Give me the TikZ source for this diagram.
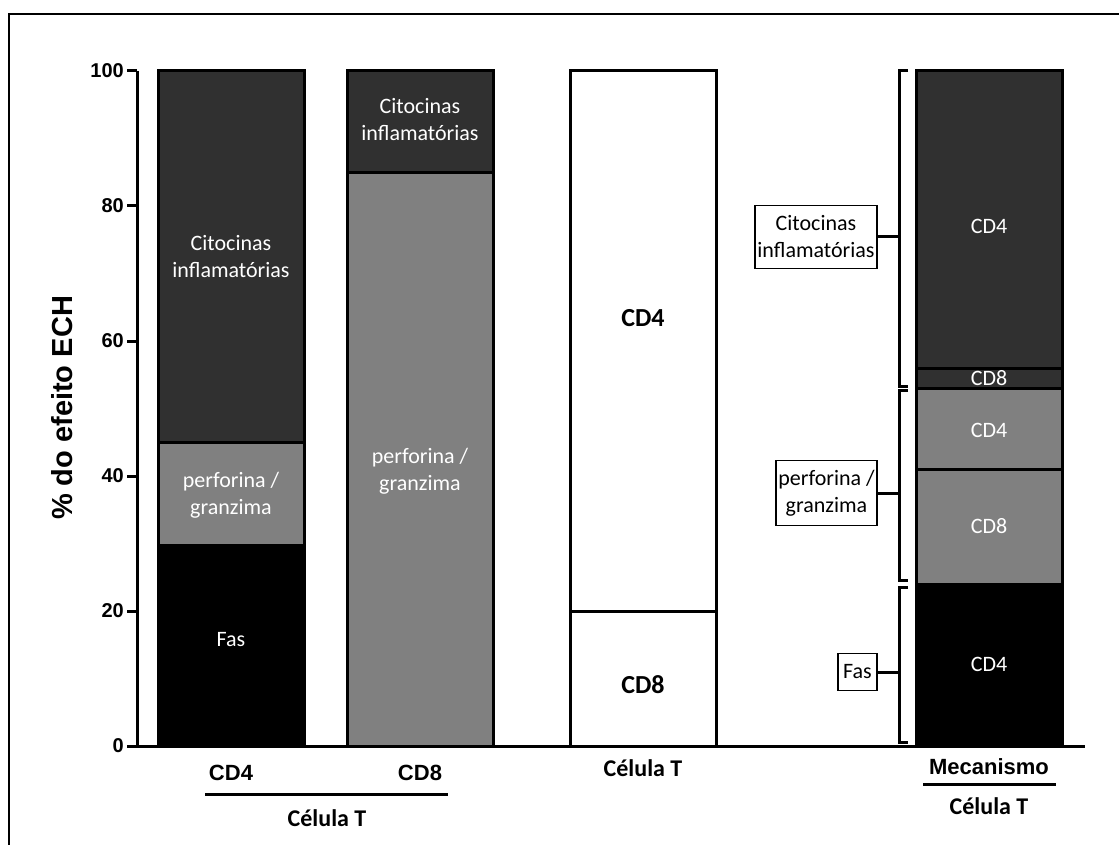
\documentclass[tikz,border=0pt]{standalone}
\usepackage{fontspec}
\setmainfont{Carlito}
\newfontfamily\arialfont{Liberation Sans}
\definecolor{dk}{HTML}{303030}
\definecolor{md}{HTML}{808080}
\begin{document}
\begin{tikzpicture}[x=1pt,y=-1pt,
  thick line/.style={line width=3pt},
  inwhite/.style={text=white, font=\fontsize{22}{27}\selectfont, align=center, inner sep=0pt},
  inblack/.style={text=black, font=\fontsize{26}{30}\selectfont\bfseries, inner sep=0pt},
  ticklab/.style={font=\arialfont\bfseries\fontsize{20}{24}\selectfont, anchor=east, inner sep=0pt},
  axlab/.style={font=\arialfont\bfseries\fontsize{22}{26}\selectfont, inner sep=0pt},
  grplab/.style={font=\bfseries\fontsize{24}{28}\selectfont, inner sep=0pt},
  keybox/.style={draw, line width=1.5pt, font=\fontsize{22}{27}\selectfont, align=center, inner sep=0pt}
]
\useasboundingbox (0,0) rectangle (1119,845);
\fill[white] (0,0) rectangle (1119,845);
% frame
\draw[line width=2.5pt] (9,845) -- (9,14) -- (1119,14);

% ---- bar 1 (CD4)
\fill[black] (158,746) rectangle (304,543.5);
\fill[md] (158,543.5) rectangle (304,442.25);
\fill[dk] (158,442.25) rectangle (304,71);
\draw[thick line] (158,442.25) -- (304,442.25);
\draw[thick line] (158,746) rectangle (304,71);
\node[inwhite] (b1cit) at (231,257) {Citocinas\\inflamatórias};
\node[inwhite] (b1per) at (231,495) {perforina /\\granzima};
\node[inwhite] (b1fas) at (231,640) {Fas};

% ---- bar 2 (CD8)
\fill[md] (347,746) rectangle (493,172.25);
\fill[dk] (347,172.25) rectangle (493,71);
\draw[thick line] (347,172.25) -- (493,172.25);
\draw[thick line] (347,746) rectangle (493,71);
\node[inwhite] (b2cit) at (420,120) {Citocinas\\inflamatórias};
\node[inwhite] (b2per) at (420,471) {perforina /\\granzima};

% ---- bar 3 (Celula T)
\fill[white] (570,746) rectangle (716,71);
\draw[thick line] (570,611) -- (716,611);
\draw[thick line] (570,746) rectangle (716,71);
\node[inblack] (b3cd4) at (643,318) {CD4};
\node[inblack] (b3cd8) at (643,685) {CD8};

% ---- bar 4 (Mecanismo)
\fill[black] (916,746) rectangle (1062,584);
\fill[md] (916,584) rectangle (1062,388.25);
\fill[dk] (916,388.25) rectangle (1062,71);
\draw[thick line] (916,584) -- (1062,584);
\draw[thick line] (916,469.25) -- (1062,469.25);
\draw[thick line] (916,388.25) -- (1062,388.25);
\draw[thick line] (916,368) -- (1062,368);
\draw[thick line] (916,746) rectangle (1062,71);
\node[inwhite] (b4a) at (989,226) {CD4};
\node[inwhite] (b4b) at (989,378) {CD8};
\node[inwhite] (b4c) at (989,430) {CD4};
\node[inwhite] (b4d) at (989,526) {CD8};
\node[inwhite] (b4e) at (989,664) {CD4};

% ---- axes
\draw[thick line] (137,71) -- (137,746) -- (1085,746);
\foreach \v/\yy in {0/746,20/611,40/476,60/341,80/206,100/71}{
  \draw[thick line] (127,\yy) -- (137,\yy);
  \node[ticklab] (t\v) at (124,\yy) {\v};
}
\node[font=\arialfont\bfseries\fontsize{29}{33}\selectfont, rotate=90, inner sep=0pt] (ylab) at (62,408) {\% do efeito ECH};

% ---- brackets
\draw[thick line] (908,71) -- (899,71) -- (899,386) -- (908,386);
\draw[thick line] (908,390) -- (899,390) -- (899,580) -- (908,580);
\draw[thick line] (908,587) -- (899,587) -- (899,742) -- (908,742);
\coordinate (k1) at (899,237);
\coordinate (k2) at (899,493);
\coordinate (k3) at (899,672);
\node[keybox, minimum width=122pt, minimum height=63pt] (kcit) at (816,237) {Citocinas\\inflamatórias};
\node[keybox, minimum width=101pt, minimum height=65pt] (kper) at (826.5,493) {perforina /\\granzima};
\node[keybox, minimum width=39pt, minimum height=37pt] (kfas) at (857.5,672) {Fas};
\draw[thick line] (kcit.east) -- (k1);
\draw[thick line] (kper.east) -- (k2);
\draw[thick line] (kfas.east) -- (k3);

% ---- bottom labels
\node[axlab] (lcd4) at (231,773) {CD4};
\node[axlab] (lcd8) at (420,773) {CD8};
\coordinate (g1a) at (205,794);
\coordinate (g1b) at (448,794);
\draw[thick line] (g1a) -- (g1b);
\node[grplab] (lcel1) at (327,818) {Célula T};
\node[grplab] (lcel2) at (643,768) {Célula T};
\node[axlab] (lmec) at (989,767) {Mecanismo};
\coordinate (g2a) at (923,784);
\coordinate (g2b) at (1056,784);
\draw[thick line] (g2a) -- (g2b);
\node[grplab] (lcel3) at (989,806) {Célula T};
\end{tikzpicture}
\end{document}
